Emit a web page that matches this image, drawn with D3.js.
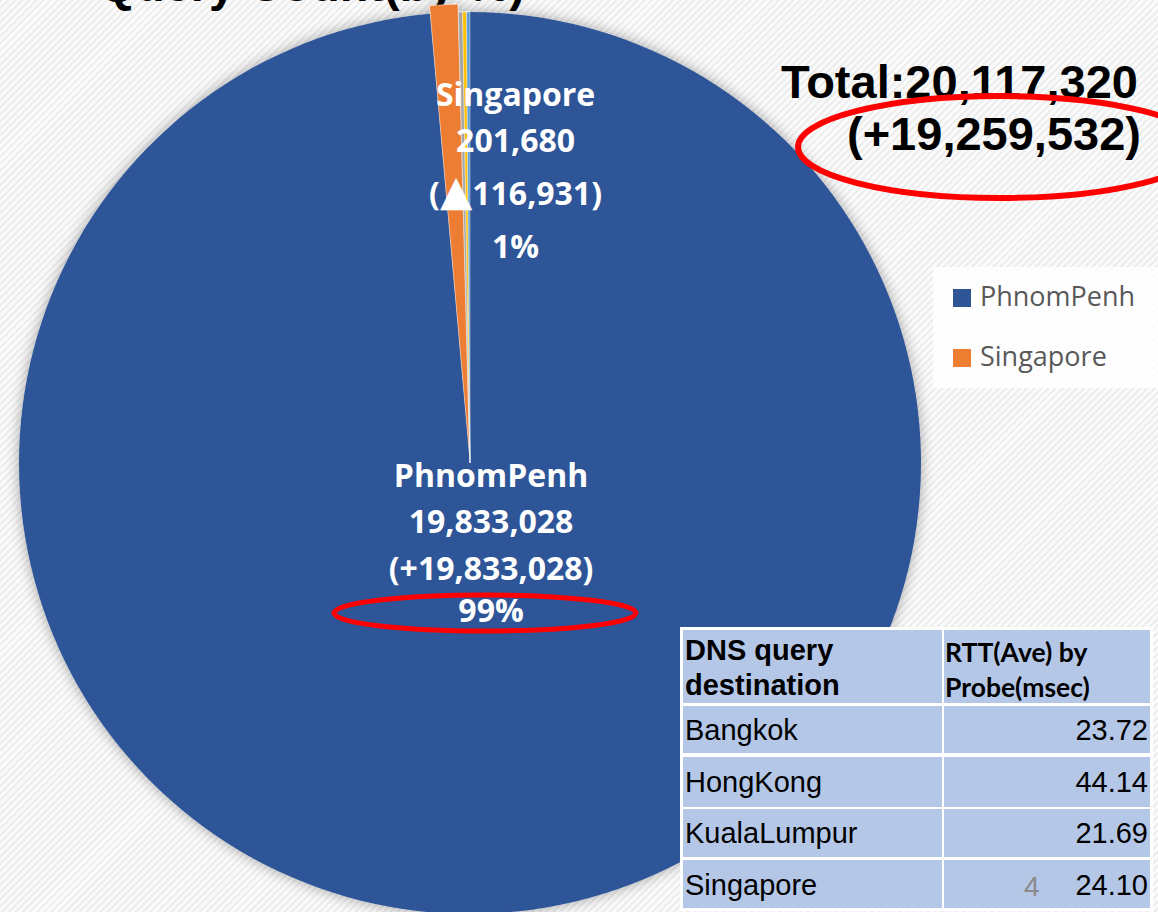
<!DOCTYPE html>
<html>
<head>
<meta charset="utf-8">
<style>
  body { margin: 0; background: #fff; }
  .label { fill: #fff; font-family: "Open Sans", sans-serif; font-weight: bold; font-size: 32px; text-anchor: middle; }
  .total { fill: #000; font-family: "Liberation Sans", Arial, sans-serif; font-weight: bold; font-size: 47px; text-anchor: end; }
  .legend text { fill: #595959; font-family: "Open Sans", sans-serif; font-size: 27px; }
  .tbl rect { fill: #B4C7E7; }
  .tbl text { fill: #000; font-family: "Liberation Sans", Arial, sans-serif; font-size: 29px; }
  .mark { fill: none; stroke: #ff0000; }
</style>
</head>
<body>
<svg width="1158" height="912"></svg>
<script src="https://d3js.org/d3.v7.min.js"></script>
<script>

// slices of the pie (clockwise from 12 o'clock, Excel order)
var sliceNames  = ["PhnomPenh", "Singapore", "Bangkok", "HongKong", "KualaLumpur"]
var sliceValues = [19833028, 201680, 30000, 28000, 24612]
var sliceColors = ["#2F5597", "#ED7D31", "#A5A5A5", "#FFC000", "#5B9BD5"]

// labelled slices: increase vs previous period
var labelNames  = ["PhnomPenh", "Singapore"]
var labelDeltas = ["(+19,833,028)", "(\u25B2116,931)"]

var totalText = "Total:20,117,320"
var totalDelta = "(+19,259,532)"

var legendNames = ["PhnomPenh", "Singapore"]

// RTT table
var tableHeader = [["DNS query", "destination"], ["RTT(Ave) by", "Probe(msec)"]]
var destinations = ["Bangkok", "HongKong", "KualaLumpur", "Singapore"]
var rttValues = [23.72, 44.14, 21.69, 24.10]

var svg = d3.select("svg"),
    W = +svg.attr("width"),
    H = +svg.attr("height")

var cx = 470, cy = 463, radius = 451

// background: light diagonal texture
var defs = svg.append("defs")
var pat = defs.append("pattern")
  .attr("id", "stripes")
  .attr("width", 5).attr("height", 5)
  .attr("patternUnits", "userSpaceOnUse")
  .attr("patternTransform", "rotate(45)")
pat.append("rect").attr("width", 5).attr("height", 5).attr("fill", "#fbfbfb")
pat.append("rect").attr("width", 2).attr("height", 5).attr("fill", "#ececec")

var shadow = defs.append("filter").attr("id", "glow")
  .attr("x", "-10%").attr("y", "-10%").attr("width", "120%").attr("height", "120%")
shadow.append("feDropShadow")
  .attr("dx", 0).attr("dy", 0)
  .attr("stdDeviation", 7)
  .attr("flood-color", "#000")
  .attr("flood-opacity", 0.35)

svg.append("rect").attr("width", W).attr("height", H).attr("fill", "url(#stripes)")

// title cut by the top of the slide
svg.append("text")
  .attr("class", "total")
  .attr("x", 525).attr("y", 1)
  .text("Query Count(by %)")

// PIE
var pie = d3.pie().sort(null).value(function(d) { return d.value })
var arcs = pie(sliceNames.map(function(n, i) { return {name: n, value: sliceValues[i], color: sliceColors[i]} }))

var arc = d3.arc().innerRadius(0).outerRadius(radius)
var total = d3.sum(sliceValues)

var g = svg.append("g")
  .attr("transform", "translate(" + cx + "," + cy + ")")

var gPie = g.append("g").attr("filter", "url(#glow)")

gPie.selectAll("path")
  .data(arcs)
  .enter().append("path")
  .attr("d", arc)
  .attr("fill", function(d) { return d.data.color })
  .attr("stroke", function(d, i) { return i == 0 ? "none" : "#fff" })
  .attr("stroke-width", 0.4)
  .attr("transform", function(d) {
    // Singapore slice is pulled out a little
    if (d.data.name != "Singapore") return null
    var a = (d.startAngle + d.endAngle) / 2, off = 8
    return "translate(" + (off * Math.sin(a)) + "," + (-off * Math.cos(a)) + ")"
  })

// data labels
var fmt = d3.format(",")
var pct = d3.format(".0%")
var labelPlace = {
  "PhnomPenh": {r: 24, dx: 20, y0: 487, steps: [0, 46, 93, 135]},
  "Singapore": {r: 357, dx: 66, y0: 106, steps: [0, 46, 99, 152]}
}

labelNames.forEach(function(name, k) {
  var d = arcs.find(function(a) { return a.data.name == name })
  var p = labelPlace[name]
  var c = d3.arc().innerRadius(p.r).outerRadius(p.r).centroid(d)
  var lines = [name, fmt(d.data.value), labelDeltas[k], pct(d.data.value / total)]
  var t = g.append("text").attr("class", "label")
  lines.forEach(function(s, j) {
    var ts = t.append("tspan")
      .attr("x", c[0] + p.dx)
      .attr("y", p.y0 + p.steps[j] - cy)
    if (s.indexOf("\u25B2") >= 0) {
      ts.append("tspan").text("(")
      ts.append("tspan").attr("font-family", "DejaVu Sans").attr("font-size", 42).text("\u25B2")
      ts.append("tspan").text(s.slice(2))
    } else {
      ts.text(s)
    }
  })
})

// LEGEND
var legend = svg.append("g").attr("class", "legend")
legend.append("rect")
  .attr("x", 933).attr("y", 267).attr("width", 230).attr("height", 121)
  .attr("fill", "#fff").attr("opacity", 0.85)
var li = legend.selectAll(".item")
  .data(legendNames)
  .enter().append("g")
  .attr("class", "item")
  .attr("transform", function(d, i) { return "translate(953," + (289 + i * 60) + ")" })
li.append("rect")
  .attr("width", 18).attr("height", 18)
  .attr("fill", function(d) { return sliceColors[sliceNames.indexOf(d)] })
li.append("text")
  .attr("x", 27).attr("y", 17)
  .text(function(d) { return d })

// TOTAL
svg.append("text").attr("class", "total").attr("x", 1138).attr("y", 98).text(totalText)
svg.append("text").attr("class", "total").attr("x", 1141).attr("y", 150).text(totalDelta)

// red marks
svg.append("ellipse").attr("class", "mark")
  .attr("cx", 1000).attr("cy", 147).attr("rx", 202).attr("ry", 51)
  .attr("stroke-width", 6)
svg.append("ellipse").attr("class", "mark")
  .attr("cx", 485).attr("cy", 613).attr("rx", 151).attr("ry", 18)
  .attr("stroke-width", 5)

// TABLE
var colX = [683, 944], colW = [259, 206]
var rowY = [630, 706, 757, 809, 860], rowH = [73, 47, 50, 48, 48]

var tbl = svg.append("g").attr("class", "tbl")
tbl.append("rect")
  .attr("x", 680).attr("y", 627).attr("width", 473).attr("height", 284)
  .style("fill", "#fff")

rowY.forEach(function(y, r) {
  colX.forEach(function(x, c) {
    tbl.append("rect").attr("x", x).attr("y", y).attr("width", colW[c]).attr("height", rowH[r])
  })
})

// header
tbl.append("text")
  .attr("font-weight", "bold")
  .selectAll("tspan").data(tableHeader[0]).enter().append("tspan")
  .attr("x", 685).attr("y", function(d, i) { return 660 + i * 35 })
  .text(function(d) { return d })
tbl.append("text")
  .attr("font-weight", "bold")
  .style("font-family", "Lato, sans-serif").style("font-size", "26.5px")
  .selectAll("tspan").data(tableHeader[1]).enter().append("tspan")
  .attr("x", 945).attr("y", function(d, i) { return 662 + i * 35 })
  .text(function(d) { return d })

var rowBase = [740, 792, 843, 895]
tbl.selectAll(".dest")
  .data(destinations)
  .enter().append("text")
  .attr("class", "dest")
  .attr("x", 685).attr("y", function(d, i) { return rowBase[i] })
  .text(function(d) { return d })
tbl.selectAll(".rtt")
  .data(rttValues)
  .enter().append("text")
  .attr("class", "rtt")
  .attr("x", 1148).attr("y", function(d, i) { return rowBase[i] })
  .attr("text-anchor", "end")
  .text(function(d) { return d3.format(".2f")(d) })

// slide number
svg.append("text")
  .attr("x", 1024).attr("y", 896)
  .attr("fill", "#8a8a8a")
  .style("font-family", "Liberation Sans, Arial, sans-serif").style("font-size", "28px")
  .text("4")

</script>
</body>
</html>
